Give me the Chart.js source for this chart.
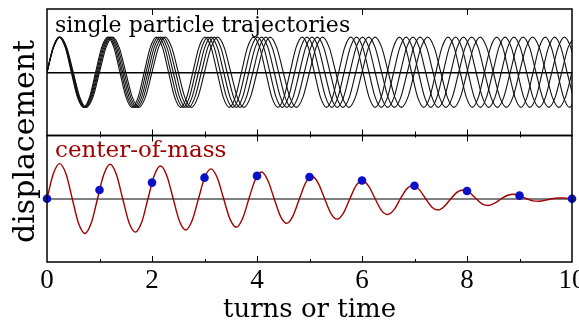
<!DOCTYPE html>
<html><head><meta charset="utf-8">
<script src="https://cdn.jsdelivr.net/npm/chart.js@4"></script>
<style>html,body{margin:0;padding:0;background:#fff;overflow:hidden}canvas{display:block}</style>
</head><body>
<canvas id="c" width="579" height="323"></canvas>
<script>
// ---- data ----
const xTickValues = [0, 2, 4, 6, 8, 10];

// displacement of one particle at successive eighth-periods of its own oscillation
const particleShape = [
  0,.707,1,.707,0,-.707,-1,-.707, 0,.707,1,.707,0,-.707,-1,-.707,
  0,.707,1,.707,0,-.707,-1,-.707, 0,.707,1,.707,0,-.707,-1,-.707,
  0,.707,1,.707,0,-.707,-1,-.707, 0,.707,1,.707,0,-.707,-1,-.707,
  0,.707,1,.707,0,-.707,-1,-.707, 0,.707,1,.707,0,-.707,-1,-.707,
  0,.707,1,.707,0,-.707,-1,-.707, 0,.707,1,.707,0,-.707,-1,-.707,
  0,.707,1,.707,0,-.707,-1,-.707
];

// turn numbers at which each particle reaches those points
const particleA = [0,.125,.25,.375,.5,.625,.75,.875,1,1.125,1.25,1.375,1.5,1.625,1.75,1.875,2,2.125,2.25,2.375,2.5,2.625,2.75,2.875,3,3.125,3.25,3.375,3.5,3.625,3.75,3.875,4,4.125,4.25,4.375,4.5,4.625,4.75,4.875,5,5.125,5.25,5.375,5.5,5.625,5.75,5.875,6,6.125,6.25,6.375,6.5,6.625,6.75,6.875,7,7.125,7.25,7.375,7.5,7.625,7.75,7.875,8,8.125,8.25,8.375,8.5,8.625,8.75,8.875,9,9.125,9.25,9.375,9.5,9.625,9.75,9.875,10];
const particleB = [0,.123,.245,.368,.490,.613,.735,.858,.980,1.103,1.225,1.348,1.471,1.593,1.716,1.838,1.961,2.083,2.206,2.328,2.451,2.574,2.696,2.819,2.941,3.064,3.186,3.309,3.431,3.554,3.676,3.799,3.922,4.044,4.167,4.289,4.412,4.534,4.657,4.779,4.902,5.025,5.147,5.270,5.392,5.515,5.637,5.760,5.882,6.005,6.127,6.250,6.373,6.495,6.618,6.740,6.863,6.985,7.108,7.230,7.353,7.475,7.598,7.721,7.843,7.966,8.088,8.211,8.333,8.456,8.578,8.701,8.824,8.946,9.069,9.191,9.314,9.436,9.559,9.681,9.804,9.926,10.049];
const particleC = [0,.120,.240,.361,.481,.601,.721,.841,.962,1.082,1.202,1.322,1.442,1.563,1.683,1.803,1.923,2.043,2.163,2.284,2.404,2.524,2.644,2.764,2.885,3.005,3.125,3.245,3.365,3.486,3.606,3.726,3.846,3.966,4.087,4.207,4.327,4.447,4.567,4.688,4.808,4.928,5.048,5.168,5.288,5.409,5.529,5.649,5.769,5.889,6.010,6.130,6.250,6.370,6.490,6.611,6.731,6.851,6.971,7.091,7.212,7.332,7.452,7.572,7.692,7.813,7.933,8.053,8.173,8.293,8.413,8.534,8.654,8.774,8.894,9.014,9.135,9.255,9.375,9.495,9.615,9.736,9.856,9.976,10.096];
const particleD = [0,.118,.236,.354,.472,.590,.708,.825,.943,1.061,1.179,1.297,1.415,1.533,1.651,1.769,1.887,2.005,2.123,2.241,2.358,2.476,2.594,2.712,2.830,2.948,3.066,3.184,3.302,3.420,3.538,3.656,3.774,3.892,4.009,4.127,4.245,4.363,4.481,4.599,4.717,4.835,4.953,5.071,5.189,5.307,5.425,5.542,5.660,5.778,5.896,6.014,6.132,6.250,6.368,6.486,6.604,6.722,6.840,6.958,7.075,7.193,7.311,7.429,7.547,7.665,7.783,7.901,8.019,8.137,8.255,8.373,8.491,8.608,8.726,8.844,8.962,9.080,9.198,9.316,9.434,9.552,9.670,9.788,9.906,10.024];
const particleE = [0,.116,.231,.347,.463,.579,.694,.810,.926,1.042,1.157,1.273,1.389,1.505,1.620,1.736,1.852,1.968,2.083,2.199,2.315,2.431,2.546,2.662,2.778,2.894,3.009,3.125,3.241,3.356,3.472,3.588,3.704,3.819,3.935,4.051,4.167,4.282,4.398,4.514,4.630,4.745,4.861,4.977,5.093,5.208,5.324,5.440,5.556,5.671,5.787,5.903,6.019,6.134,6.250,6.366,6.481,6.597,6.713,6.829,6.944,7.060,7.176,7.292,7.407,7.523,7.639,7.755,7.870,7.986,8.102,8.218,8.333,8.449,8.565,8.681,8.796,8.912,9.028,9.144,9.259,9.375,9.491,9.606,9.722,9.838,9.954,10.069];

// center-of-mass curve
const comTurns = particleC;
const comValues = [0,.71,1.00,.71,0,-.70,-.99,-.70,0,.69,.98,.69,0,-.68,-.95,-.67,0,.66,.93,.65,0,-.64,-.89,-.62,0,.61,.85,.59,0,-.58,-.81,-.56,0,.54,.76,.52,0,-.50,-.70,-.48,0,.46,.64,.44,0,-.42,-.58,-.40,0,.38,.52,.35,0,-.33,-.45,-.31,0,.28,.38,.26,0,-.24,-.32,-.21,0,.19,.25,.17,0,-.15,-.19,-.12,0,.10,.13,.08,0,-.06,-.07,-.04,0,.02,.02,0,0];

// center-of-mass sampled once per turn (blue dots)
const sampleTurns = [0,1,2,3,4,5,6,7,8,9,10];
const sampleValues = [0,.25,.46,.60,.65,.62,.52,.37,.22,.09,0];

// ---- chart ----
const SERIF = '"DejaVu Serif", serif';
const DIGITS = '"Liberation Serif", serif';
const particles = [particleA, particleB, particleC, particleD, particleE];

const datasets = [];
datasets.push({
  label: 'samples', yAxisID: 'yBot', order: 0, clip: false,
  data: sampleTurns.map((t, i) => ({x: t, y: sampleValues[i]})),
  showLine: false, pointRadius: 4.3, pointBackgroundColor: '#0a10c8', pointBorderWidth: 0
});
datasets.push({
  label: 'center-of-mass', yAxisID: 'yBot', order: 1,
  data: comTurns.map((t, i) => ({x: t, y: comValues[i]})),
  borderColor: '#a00000', borderWidth: 1.4, pointRadius: 0, cubicInterpolationMode: 'monotone', fill: false
});
particles.forEach((ts, k) => {
  datasets.push({
    label: 'particle ' + (k + 1), yAxisID: 'yTop', order: 2,
    data: ts.map((t, i) => ({x: t, y: particleShape[i]})),
    borderColor: '#111', borderWidth: 1.1, pointRadius: 0, cubicInterpolationMode: 'monotone', fill: false
  });
});

const framePlugin = {
  id: 'frame',
  afterDatasetsDraw(chart) {
    const {ctx, chartArea: a, scales} = chart;
    const xs = scales.x, top = scales.yTop, bot = scales.yBot;
    ctx.save();
    ctx.strokeStyle = '#000';
    ctx.lineWidth = 1.5;
    ctx.strokeRect(a.left, top.top, a.right - a.left, top.bottom - top.top);
    ctx.strokeRect(a.left, bot.top, a.right - a.left, bot.bottom - bot.top);
    ctx.lineWidth = 1;
    ctx.beginPath();
    for (let v = 1; v < 10; v++) {
      const px = Math.round(xs.getPixelForValue(v)) + 0.5;
      const major = v % 2 === 0;
      ctx.moveTo(px, bot.bottom); ctx.lineTo(px, bot.bottom - (major ? 6 : 3));
      ctx.moveTo(px, top.bottom); ctx.lineTo(px, top.bottom - (major ? 6 : 4));
      ctx.moveTo(px, bot.top); ctx.lineTo(px, bot.top + (major ? 6 : 2));
      if (major) { ctx.moveTo(px, top.top); ctx.lineTo(px, top.top + 6); }
    }
    ctx.stroke();
    ctx.restore();
  },
  afterDraw(chart) {
    const {ctx, chartArea: a, scales} = chart;
    ctx.save();
    ctx.textAlign = 'left';
    ctx.textBaseline = 'alphabetic';
    ctx.fillStyle = '#000';
    ctx.font = '22px ' + SERIF;
    ctx.fillText('single particle trajectories', a.left + 8, scales.yTop.top + 23);
    ctx.fillStyle = '#a00000';
    ctx.font = '23px ' + SERIF;
    ctx.fillText('center-of-mass', a.left + 8, scales.yBot.top + 21);
    ctx.fillStyle = '#000';
    ctx.font = '26px ' + SERIF;
    ctx.textAlign = 'center';
    ctx.fillText('turns or time', (a.left + a.right) / 2, 317);
    ctx.translate(34, (a.top + a.bottom) / 2 + 6);
    ctx.rotate(-Math.PI / 2);
    ctx.font = '30px ' + SERIF;
    ctx.fillText('displacement', 0, 0);
    ctx.restore();
  }
};

new Chart(document.getElementById('c'), {
  type: 'line',
  data: {datasets},
  options: {
    responsive: false,
    animation: false,
    events: [],
    layout: {padding: {top: 9, right: 7, left: 0, bottom: 0}},
    plugins: {legend: {display: false}, tooltip: {enabled: false}, title: {display: false}},
    scales: {
      x: {
        type: 'linear', min: 0, max: 10, position: 'bottom',
        afterBuildTicks: s => { s.ticks = xTickValues.map(v => ({value: v})); },
        afterFit: s => { s.height = 61; s.paddingLeft = 0; s.paddingRight = 0; },
        ticks: {font: {family: DIGITS, size: 27}, color: '#000', padding: 3, maxRotation: 0, autoSkip: false},
        grid: {display: false, drawTicks: false},
        border: {display: false}
      },
      yTop: {
        type: 'linear', position: 'left', stack: 'panels', stackWeight: 1, weight: 1,
        min: -1.8, max: 1.8,
        afterBuildTicks: s => { s.ticks = [{value: 0}]; },
        afterFit: s => { s.width = 47; },
        ticks: {display: false},
        grid: {drawTicks: false, color: '#000', lineWidth: 1.5},
        border: {display: false}
      },
      yBot: {
        type: 'linear', position: 'left', stack: 'panels', stackWeight: 1, weight: 0,
        min: -1.8, max: 1.8,
        afterBuildTicks: s => { s.ticks = [{value: 0}]; },
        afterFit: s => { s.width = 47; },
        ticks: {display: false},
        grid: {drawTicks: false, color: '#808080', lineWidth: 2},
        border: {display: false}
      }
    }
  },
  plugins: [framePlugin]
});
</script>
</body></html>
